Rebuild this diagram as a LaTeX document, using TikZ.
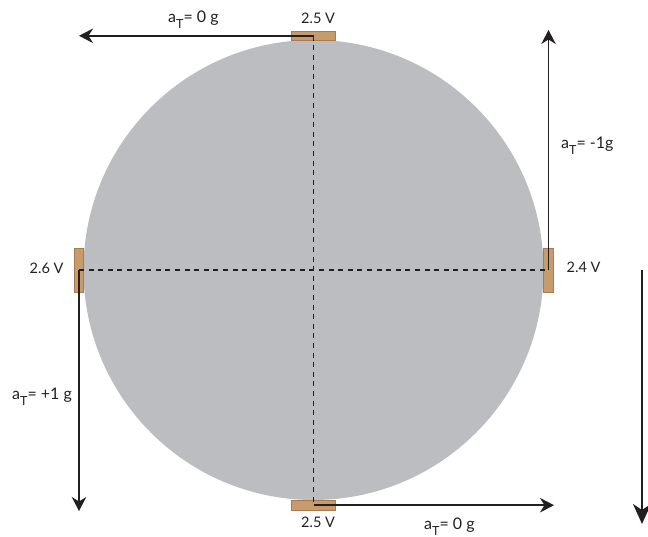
\documentclass[tikz,border=0pt]{standalone}
\usepackage{fontspec}
\setmainfont{Lato}
\usetikzlibrary{arrows.meta}
\definecolor{discgrey}{HTML}{BBBDC1}
\definecolor{sensorfill}{HTML}{C69C6D}
\definecolor{sensorline}{HTML}{A97C50}
\definecolor{inkline}{HTML}{231F20}
\newcommand{\aT}{a\raisebox{-6pt}{\fontsize{12.5}{14}\selectfont T}}
\tikzset{
  disc/.style={circle,fill=discgrey,draw=none,minimum size=460pt,inner sep=0pt,outer sep=0pt},
  sensorh/.style={rectangle,fill=sensorfill,draw=sensorline,line width=0.6pt,minimum width=44pt,minimum height=9.5pt,inner sep=0pt},
  sensorv/.style={rectangle,fill=sensorfill,draw=sensorline,line width=0.6pt,minimum width=9.5pt,minimum height=44pt,inner sep=0pt},
  axisline/.style={draw=inkline,line width=1.5pt,dash pattern=on 5pt off 4.6pt},
  accel/.style={draw=inkline,line width=1.7pt,-{Stealth[length=14pt,width=14.5pt,inset=4.5pt]}},
  gravity/.style={draw=inkline,line width=2.2pt,-{Stealth[length=20pt,width=18pt,inset=6pt]}},
  lab/.style={anchor=base west,inner sep=0pt,text=inkline,font=\fontsize{14.5}{16}\selectfont},
  alab/.style={lab,font=\fontsize{16}{18}\selectfont}
}
\begin{document}
\begin{tikzpicture}[x=1pt,y=-1pt]
\useasboundingbox (0,0) rectangle (648,537);
\node[disc] (disc) at (313.5,270) {};
\node[sensorh] (top) at (313.5,35.8) {};
\node[sensorh] (bottom) at (313.5,505.2) {};
\node[sensorv] (left) at (79,270) {};
\node[sensorv] (right) at (548.5,270) {};
\draw[axisline] (top.center) -- (bottom.center);
\draw[axisline] (left.center) -- (right.center);
\coordinate (topend) at (79,35.8);
\coordinate (rightend) at (548.5,30);
\coordinate (leftend) at (79,511);
\coordinate (bottomend) at (554,505.2);
\coordinate (gstart) at (642,270);
\coordinate (gend) at (642,524);
\draw[accel] (top.center) -- (topend);
\draw[accel] (right.center) -- (rightend);
\draw[accel] (left.center) -- (leftend);
\draw[accel] (bottom.center) -- (bottomend);
\draw[gravity] (gstart) -- (gend);
\node[lab] (vtop) at (301,24) {2.5 V};
\node[lab] (vbottom) at (301,527) {2.5 V};
\node[lab] (vleft) at (29.5,274) {2.6 V};
\node[lab] (vright) at (566.5,273) {2.4 V};
\node[alab] (atop) at (168,22.5) {\aT= 0 g};
\node[alab] (abottom) at (424,529) {\aT= 0 g};
\node[alab] (aleft) at (12,399) {\aT= +1 g};
\node[alab] (aright) at (561,149) {\aT= -1g};
\end{tikzpicture}
\end{document}
